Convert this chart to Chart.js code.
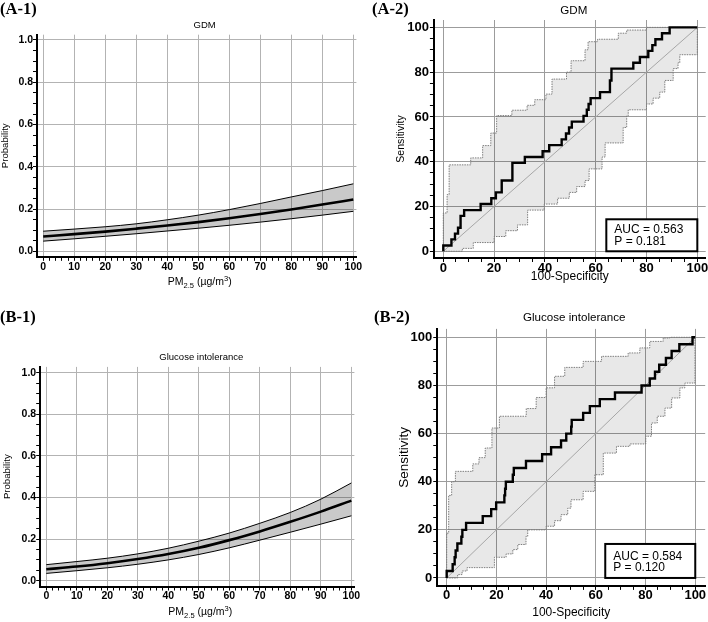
<!DOCTYPE html>
<html>
<head>
<meta charset="utf-8">
<script src="https://cdn.jsdelivr.net/npm/chart.js@4.4.1/dist/chart.umd.min.js"></script>
<style>
  html, body { margin: 0; padding: 0; background: #fff; overflow: hidden; }
  #wrap { position: relative; width: 708px; height: 622px; }
  canvas { position: absolute; }
  .tag { position: absolute; font: bold 16.5px "Liberation Serif", "Times New Roman", serif; line-height: 16px; color: #000; }
</style>
</head>
<body>
<div id="wrap">
  <canvas id="a1" width="366" height="300" style="left:0;top:0"></canvas>
  <canvas id="b1" width="366" height="322" style="left:0;top:300px"></canvas>
  <canvas id="a2" width="352" height="300" style="left:356px;top:0"></canvas>
  <canvas id="b2" width="352" height="322" style="left:356px;top:300px"></canvas>
  <div class="tag" style="left:0;top:1px">(A-1)</div>
  <div class="tag" style="left:372px;top:1px">(A-2)</div>
  <div class="tag" style="left:0;top:309px">(B-1)</div>
  <div class="tag" style="left:374px;top:309px">(B-2)</div>
</div>
<script>
// logistic regression curves, PM2.5 0..100
const pmValues = [0, 10, 20, 30, 40, 50, 60, 70, 80, 90, 100];
const gdmProb  = [0.071, 0.082, 0.094, 0.108, 0.123, 0.139, 0.157, 0.177, 0.199, 0.222, 0.246];
const gdmUpper = [0.096, 0.106, 0.117, 0.131, 0.150, 0.172, 0.198, 0.227, 0.258, 0.288, 0.320];
const gdmLower = [0.049, 0.060, 0.072, 0.084, 0.097, 0.110, 0.124, 0.139, 0.155, 0.172, 0.190];
const giProb   = [0.055, 0.068, 0.084, 0.104, 0.128, 0.158, 0.195, 0.237, 0.283, 0.332, 0.385];
const giUpper  = [0.077, 0.092, 0.108, 0.129, 0.156, 0.190, 0.229, 0.276, 0.328, 0.392, 0.470];
const giLower  = [0.035, 0.048, 0.062, 0.079, 0.100, 0.126, 0.158, 0.195, 0.233, 0.272, 0.312];

// ROC curves (100-specificity, sensitivity), step corners
const gdmRocFpr = [0, 3.2, 4.6, 5.8, 6.8, 8.2, 14.7, 18.9, 20.7, 23, 27.2, 32.1, 39.1, 41.7, 46.6, 48.3, 49.5, 50.6, 55.2, 56.5, 57.2, 58, 61.7, 65.6, 66.2, 74.8, 77.4, 80.7, 82.3, 83.5, 86.1, 89.1, 100];
const gdmRocTpr = [0, 2.6, 5.3, 7.9, 10.5, 15.8, 18.4, 21.1, 23.7, 26.3, 31.6, 39.5, 42.1, 44.7, 47.4, 50, 52.6, 55.3, 57.9, 60.5, 63.2, 65.8, 68.4, 71.1, 76.3, 81.6, 84.2, 86.8, 89.5, 92.1, 94.7, 97.4, 100];
const gdmUpFpr = [0, 1.5, 2.3, 10.8, 15.5, 18.7, 21, 27, 33, 36, 40.4, 42.8, 48.5, 50.3, 55.8, 57, 60.7, 68.9, 72.2, 80, 100];
const gdmUpTpr = [0, 17.1, 25.3, 38.6, 41.7, 47.2, 52.8, 60.6, 63, 65.2, 67.7, 70.2, 76.9, 80, 85.1, 90, 93.6, 94.7, 97.4, 98.8, 100];
const gdmLoFpr = [0, 7.5, 11.8, 20, 24.6, 29.2, 33.2, 39.7, 45, 49.6, 52.5, 55.8, 57.4, 62.5, 63.7, 70.8, 72.2, 72.8, 80, 82.6, 85.2, 87.2, 90.5, 92.4, 93.1, 100, 100];
const gdmLoTpr = [0, 0, 1.3, 3.9, 6.6, 9.2, 11.8, 18.4, 21.1, 23.7, 26.3, 28.9, 31.6, 36.8, 42.1, 48.4, 55.3, 60.5, 63.2, 65.8, 68.4, 71.1, 76.3, 81.6, 84.2, 87.8, 100];

const giRocFpr = [0, 2.4, 3.2, 3.6, 4.3, 5.9, 6.3, 7.8, 14.5, 17.9, 19.9, 23.2, 23.5, 23.8, 26.6, 27, 31.9, 38.4, 42, 46, 48.1, 50.1, 50.3, 54.9, 57.6, 61.6, 67.7, 78.4, 81.7, 83.8, 85.5, 88.2, 90.5, 93.6, 98.9, 100];
const giRocTpr = [0, 2.9, 5.7, 8.6, 11.4, 14.3, 17.1, 20, 22.9, 25.7, 28.6, 31.4, 34.3, 37.1, 40, 42.9, 45.7, 48.6, 51.4, 54.3, 57.1, 60, 62.9, 65.7, 68.6, 71.4, 74.3, 77.1, 80, 82.9, 85.7, 88.6, 91.4, 94.3, 97.1, 100];
const giUpFpr = [0, 0.8, 2.0, 3.5, 10.5, 13, 15.5, 18.2, 21.2, 32, 36, 40, 43.4, 47.5, 54.9, 62.3, 73, 77.7, 81.7, 87.1, 89.8, 100];
const giUpTpr = [0, 18.6, 34.3, 40, 44.3, 47.4, 50, 54, 62.3, 67.2, 70.4, 75, 79, 83.8, 87.5, 90, 92.1, 93.5, 95.6, 98.3, 99.7, 100];
const giLoFpr = [0, 4.4, 6.2, 8.2, 19.2, 23.9, 26.6, 28.6, 31.9, 32.6, 40, 43.4, 46, 48.7, 50, 54.9, 59.6, 63, 68.3, 73.7, 80.1, 82.4, 84.7, 87.8, 90.5, 93.8, 95.8, 99.9, 100];
const giLoTpr = [0, 0, 1.4, 2.9, 4.3, 8.6, 10, 11.8, 13.9, 17.3, 20, 21.5, 23.8, 26.3, 29, 32.5, 36, 42.9, 51.9, 54.7, 55.7, 58.9, 64.4, 67.2, 70.6, 74.8, 79, 81, 100];

const gdmAuc = ['AUC = 0.563', 'P = 0.181'];
const giAuc = ['AUC = 0.584', 'P = 0.120'];

// tick labels
const pmTicks = [0, 10, 20, 30, 40, 50, 60, 70, 80, 90, 100];
const probTicks = [0, 0.2, 0.4, 0.6, 0.8, 1.0];
const rocTicks = [0, 20, 40, 60, 80, 100];

// x title of the logistic panels: PM2.5 (µg/m3), with sub/superscript
const pmTitle = [
  { t: 'PM' },
  { t: '2.5', sub: true },
  { t: ' (\u00b5g/m' },
  { t: '3', sup: true },
  { t: ')' }
];

const FAMILY = '"Liberation Sans", Arial, sans-serif';

function pts(xs, ys) {
  return xs.map((x, i) => ({ x: x, y: ys[i] }));
}

function withMinor(majors, step, digits) {
  let out = [];
  let lo = majors[0], hi = majors[majors.length - 1];
  for (let v = lo; v <= hi + 1e-9; v += step) out.push(+v.toFixed(digits));
  return out;
}

function isMajor(majors, v) {
  return majors.some(m => Math.abs(m - v) < 1e-9);
}

function axis(o) {
  let all = withMinor(o.majors, o.minor, 3);
  return {
    type: 'linear',
    min: o.min,
    max: o.max,
    afterBuildTicks: s => { s.ticks = all.map(v => ({ value: v })); },
    afterFit: s => {
      if (o.horiz) s.height = o.size; else s.width = o.size;
      s.paddingLeft = 0; s.paddingRight = 0; s.paddingTop = 0; s.paddingBottom = 0;
    },
    border: { display: true, color: '#000', width: 2 },
    grid: {
      color: c => (c.tick && isMajor(o.majors, c.tick.value)) ? o.gridColor : 'rgba(0,0,0,0)',
      lineWidth: 1,
      drawTicks: true,
      tickLength: 4,
      tickColor: '#000',
      tickWidth: 1
    },
    ticks: {
      autoSkip: false,
      maxRotation: 0,
      color: '#000',
      padding: o.pad,
      font: { family: FAMILY, size: o.tickSize, weight: 'bold', lineHeight: 1 },
      callback: v => isMajor(o.majors, v) ? o.fmt(v) : ''
    },
    title: {
      display: !!o.title,
      text: o.title || '',
      color: '#000',
      padding: 0,
      font: { family: FAMILY, size: o.titleSize, lineHeight: 1.2 }
    }
  };
}

// panel title drawn over the plot area
const panelTitle = {
  id: 'panelTitle',
  afterDraw(chart, args, opts) {
    if (!opts.text) return;
    const a = chart.chartArea, ctx = chart.ctx;
    ctx.save();
    ctx.font = opts.size + 'px ' + FAMILY;
    ctx.fillStyle = '#000';
    ctx.textAlign = 'center';
    ctx.textBaseline = 'middle';
    ctx.fillText(opts.text, (a.left + a.right) / 2 + opts.dx, opts.y);
    ctx.restore();
  }
};

// axis title with subscript / superscript pieces
const richTitle = {
  id: 'richTitle',
  afterDraw(chart, args, opts) {
    if (!opts.parts) return;
    const a = chart.chartArea, ctx = chart.ctx;
    const big = opts.size + 'px ' + FAMILY, small = (opts.size * 0.72) + 'px ' + FAMILY;
    ctx.save();
    ctx.fillStyle = '#000';
    ctx.textBaseline = 'alphabetic';
    let total = 0;
    opts.parts.forEach(p => { ctx.font = (p.sub || p.sup) ? small : big; total += ctx.measureText(p.t).width; });
    let x = (a.left + a.right) / 2 + opts.dx - total / 2;
    opts.parts.forEach(p => {
      ctx.font = (p.sub || p.sup) ? small : big;
      let dy = p.sub ? opts.size * 0.25 : (p.sup ? -opts.size * 0.38 : 0);
      ctx.fillText(p.t, x, opts.y + dy);
      x += ctx.measureText(p.t).width;
    });
    ctx.restore();
  }
};

// AUC / P box in the lower right corner
const aucBox = {
  id: 'aucBox',
  afterDatasetsDraw(chart, args, opts) {
    if (!opts.lines) return;
    const ctx = chart.ctx;
    const right = chart.scales.x.getPixelForValue(100);
    const bottom = chart.scales.y.getPixelForValue(0);
    const left = right - opts.w, top = bottom - opts.h;
    ctx.save();
    ctx.fillStyle = '#fff';
    ctx.fillRect(left, top, opts.w, opts.h);
    ctx.strokeStyle = '#000';
    ctx.lineWidth = 2;
    ctx.strokeRect(left, top, opts.w, opts.h);
    ctx.fillStyle = '#000';
    ctx.font = opts.size + 'px ' + FAMILY;
    ctx.textBaseline = 'middle';
    opts.lines.forEach((t, i) => ctx.fillText(t, left + 8, top + opts.first + i * opts.gap));
    ctx.restore();
  }
};

Chart.register(panelTitle, richTitle, aucBox);

function logisticChart(id, g, prob, upper, lower, title) {
  return new Chart(document.getElementById(id), {
    type: 'line',
    data: {
      datasets: [
        { data: pts(pmValues, prob), borderColor: '#000', borderWidth: 2.6, pointRadius: 0, cubicInterpolationMode: 'monotone', fill: false },
        { data: pts(pmValues, upper), borderColor: '#000', borderWidth: 1, pointRadius: 0, cubicInterpolationMode: 'monotone',
          fill: '+1', backgroundColor: 'rgba(0,0,0,0.21)' },
        { data: pts(pmValues, lower), borderColor: '#000', borderWidth: 1, pointRadius: 0, cubicInterpolationMode: 'monotone', fill: false }
      ]
    },
    options: {
      responsive: false,
      animation: false,
      layout: { padding: g.pad },
      scales: {
        x: axis({ horiz: true, size: g.xh, min: -2, max: 101, majors: pmTicks, minor: 2, gridColor: '#b3b3b3',
                  pad: g.xpad, tickSize: 10.5, fmt: v => String(v) }),
        y: axis({ horiz: false, size: g.yw, min: g.ymin, max: g.ymax, majors: probTicks, minor: 0.05, gridColor: '#b3b3b3',
                  pad: 0, tickSize: 10.5, titleSize: 9.6, title: 'Probability', fmt: v => v.toFixed(1) })
      },
      plugins: {
        legend: { display: false },
        tooltip: { enabled: false },
        filler: { drawTime: 'beforeDatasetsDraw' },
        panelTitle: { text: title, y: g.ty, dx: g.tdx, size: 9.5 },
        richTitle: { parts: pmTitle, size: 10.5, y: g.xty, dx: 3 },
        aucBox: false
      }
    }
  });
}

function rocChart(id, g, fpr, tpr, upF, upT, loF, loT, box, title) {
  return new Chart(document.getElementById(id), {
    type: 'line',
    data: {
      datasets: [
        { data: pts(fpr, tpr), stepped: 'after', borderColor: '#000', borderWidth: 2.4, pointRadius: 0, fill: false },
        { data: pts([0, 100], [0, 100]), borderColor: '#a6a6a6', borderWidth: 1, pointRadius: 0, fill: false },
        { data: pts(upF, upT), stepped: 'after', borderColor: '#7d7d7d', borderWidth: 1, borderDash: [1.5, 1], pointRadius: 0,
          fill: '+1', backgroundColor: 'rgba(0,0,0,0.09)' },
        { data: pts(loF, loT), stepped: 'after', borderColor: '#7d7d7d', borderWidth: 1, borderDash: [1.5, 1], pointRadius: 0, fill: false }
      ]
    },
    options: {
      responsive: false,
      animation: false,
      layout: { padding: g.pad },
      scales: {
        x: axis({ horiz: true, size: g.xh, min: g.xmin, max: g.xmax, majors: rocTicks, minor: 5, gridColor: '#9c9c9c',
                  pad: -0.5, tickSize: 13, titleSize: 12, title: '100-Specificity', fmt: v => String(v) }),
        y: axis({ horiz: false, size: g.yw, min: g.ymin, max: g.ymax, majors: rocTicks, minor: 5, gridColor: '#9c9c9c',
                  pad: 1, tickSize: 13, titleSize: g.yts, title: 'Sensitivity', fmt: v => String(v) })
      },
      plugins: {
        legend: { display: false },
        tooltip: { enabled: false },
        filler: { drawTime: 'beforeDatasetsDraw' },
        panelTitle: { text: title, y: g.ty, dx: g.tdx, size: 11.6 },
        richTitle: false,
        aucBox: { lines: box, w: g.bw, h: g.bh, first: g.bf, gap: g.bg, size: 12 }
      }
    }
  });
}

logisticChart('a1', { pad: { left: 0, top: 34.7, right: 9.6, bottom: 11.7 }, xh: 31.5, yw: 37, xpad: 1,
                      ymin: -0.025, ymax: 1.025, ty: 25, tdx: 8, xty: 285 }, gdmProb, gdmUpper, gdmLower, 'GDM');
logisticChart('b1', { pad: { left: 1.7, top: 66.9, right: 11.6, bottom: 3.7 }, xh: 31.8, yw: 38.5, xpad: 0,
                      ymin: -0.028, ymax: 1.028, ty: 57, tdx: 4, xty: 315 }, giProb, giUpper, giLower, 'Glucose intolerance');
rocChart('a2', { pad: { left: 38.4, top: 20, right: 2.3, bottom: 16.3 }, xh: 25.7, yw: 39.5, yts: 10.5,
                 xmin: -3.7, xmax: 103.3, ymin: -3, ymax: 103.3, ty: 11, tdx: 4, bw: 91, bh: 32, bf: 10, bg: 12 },
         gdmRocFpr, gdmRocTpr, gdmUpFpr, gdmUpTpr, gdmLoFpr, gdmLoTpr, gdmAuc, 'GDM');
rocChart('b2', { pad: { left: 39.9, top: 28.9, right: 2.8, bottom: 1.8 }, xh: 34.3, yw: 41.35, yts: 13.5,
                 xmin: -3.8, xmax: 104, ymin: -3.3, ymax: 103.5, ty: 18, tdx: 3, bw: 90, bh: 34, bf: 13, bg: 11 },
         giRocFpr, giRocTpr, giUpFpr, giUpTpr, giLoFpr, giLoTpr, giAuc, 'Glucose intolerance');
</script>
</body>
</html>
